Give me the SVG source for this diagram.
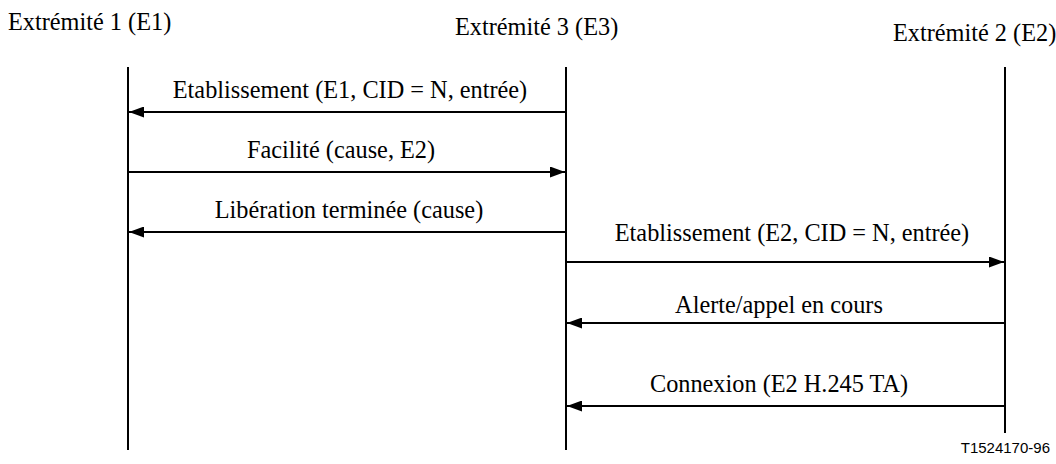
<svg xmlns="http://www.w3.org/2000/svg" width="1056" height="464" viewBox="0 0 1056 464">
<style>
  .t { font-family: "Liberation Serif", "Times New Roman", serif; font-size: 24.3px; fill: #000; }
  .m { text-anchor: middle; }
  .life { stroke: #000; stroke-width: 2; fill: none; }
  .msg { stroke: #000; stroke-width: 2; fill: none; marker-end: url(#ah); }
  .cap { font-family: "Liberation Sans", Arial, sans-serif; font-size: 15px; fill: #000; }
</style>
<defs>
  <marker id="ah" viewBox="0 0 15 11" refX="15" refY="5.5" markerWidth="15" markerHeight="11" markerUnits="userSpaceOnUse" orient="auto">
    <path d="M0,0 L15,5.5 L0,11 Z" fill="#000"/>
  </marker>
</defs>
<rect width="1056" height="464" fill="#fff"/>
<g id="E1">
  <text class="t" x="8" y="30">Extrémité 1 (E1)</text>
  <line class="life" x1="128" y1="67" x2="128" y2="450"/>
</g>
<g id="E3">
  <text class="t" x="455" y="35">Extrémité 3 (E3)</text>
  <line class="life" x1="566" y1="67" x2="566" y2="450"/>
</g>
<g id="E2">
  <text class="t" x="893" y="41">Extrémité 2 (E2)</text>
  <line class="life" x1="1005" y1="67" x2="1005" y2="433"/>
</g>
<g id="connectors">
  <line class="msg" x1="566" y1="112" x2="129" y2="112"/>
  <text class="t m" x="350" y="98">Etablissement (E1, CID = N, entrée)</text>
  <line class="msg" x1="128" y1="172" x2="565" y2="172"/>
  <text class="t m" x="341" y="158">Facilité (cause, E2)</text>
  <line class="msg" x1="566" y1="232" x2="129" y2="232"/>
  <text class="t m" x="349" y="218">Libération terminée (cause)</text>
  <line class="msg" x1="566" y1="262" x2="1004" y2="262"/>
  <text class="t m" x="792" y="241">Etablissement (E2, CID = N, entrée)</text>
  <line class="msg" x1="1005" y1="323" x2="567" y2="323"/>
  <text class="t m" x="779" y="313">Alerte/appel en cours</text>
  <line class="msg" x1="1005" y1="406" x2="567" y2="406"/>
  <text class="t m" x="779" y="392">Connexion (E2 H.245 TA)</text>
</g>
<text class="cap" x="1050" y="453" text-anchor="end">T1524170-96</text>
</svg>
